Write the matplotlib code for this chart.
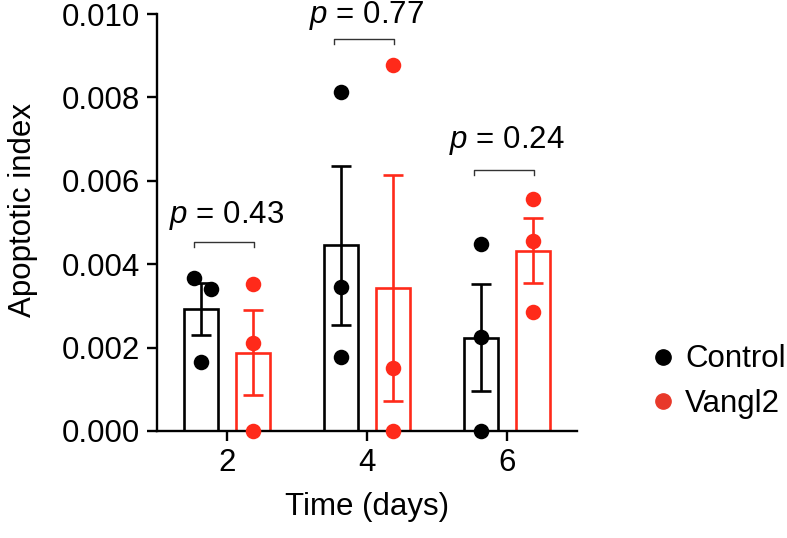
import matplotlib
matplotlib.use("Agg")
import matplotlib.pyplot as plt
import numpy as np

# ---- data ----
days = [2, 4, 6]
groups = ["Control", "Vangl2"]
control_mean = [0.00293, 0.00445, 0.00224]
control_sem = [0.00062, 0.00190, 0.00129]
vangl2_mean = [0.00188, 0.00343, 0.00432]
vangl2_sem = [0.00102, 0.00271, 0.00078]
control_points = [[0.00367, 0.00340, 0.00165],
                  [0.00812, 0.00346, 0.00177],
                  [0.00448, 0.00225, 0.00000]]
vangl2_points = [[0.00352, 0.00212, 0.00000],
                 [0.00878, 0.00152, 0.00000],
                 [0.00556, 0.00456, 0.00285]]
p_labels = ["0.43", "0.77", "0.24"]
bracket_y = [0.00454, 0.00939, 0.00626]
p_text_y = [0.00500, 0.00978, 0.00679]
yticks = [0.000, 0.002, 0.004, 0.006, 0.008, 0.010]

# ---- style ----
BLACK = "#000000"
RED = "#ff2a1a"
FS = 22.5
plt.rcParams["font.family"] = ["Liberation Sans", "DejaVu Sans"]
plt.rcParams["mathtext.fontset"] = "custom"
plt.rcParams["mathtext.it"] = "Liberation Sans:italic"
plt.rcParams["mathtext.rm"] = "Liberation Sans"

fig = plt.figure(figsize=(7.87, 5.38), dpi=100)
ax = fig.add_axes([157 / 787, 1 - 431 / 538, 420 / 787, 417 / 538])

off = 0.375
width = 0.48
lw = 1.9
jitter_c = [[-0.10, 0.14, 0.0], [0, 0, 0], [0, 0, 0]]
jitter_v = [[0, 0, 0], [0, 0, 0], [0, 0, 0]]

x = np.array(days, dtype=float)
for means, sems, pts, jit, col, sgn in [
    (control_mean, control_sem, control_points, jitter_c, BLACK, -1),
    (vangl2_mean, vangl2_sem, vangl2_points, jitter_v, RED, 1),
]:
    xs = x + sgn * off
    ax.bar(xs, means, width=width, facecolor="white", edgecolor=col,
           linewidth=lw, zorder=2)
    ax.errorbar(xs, means, yerr=sems, fmt="none", ecolor=col, elinewidth=lw,
                capsize=7, capthick=lw, zorder=3)
    for i in range(len(days)):
        ax.scatter(xs[i] + np.array(jit[i]), pts[i], s=125, color=col,
                   zorder=4, clip_on=False, linewidths=0)

# brackets and p-values
for i, d in enumerate(days):
    x0, x1 = d - 0.47, d + 0.38
    y = bracket_y[i]
    h = 0.00012
    ax.plot([x0, x0, x1, x1], [y - h, y, y, y - h], color="#333333",
            lw=1.0, zorder=5, clip_on=False)
    ax.text(d, p_text_y[i], r"$p$ = " + p_labels[i], ha="center",
            va="baseline", fontsize=FS, clip_on=False)

ax.set_xlim(1, 7)
ax.set_ylim(0, 0.010)
ax.set_xticks(days)
ax.set_xticklabels([str(d) for d in days])
ax.set_yticks(yticks)
ax.set_yticklabels([f"{t:.3f}" for t in yticks])
ax.tick_params(axis="both", labelsize=FS, width=1.7, length=7)
ax.tick_params(axis="y", pad=5)
ax.tick_params(axis="x", pad=5)
for s in ["top", "right"]:
    ax.spines[s].set_visible(False)
for s in ["left", "bottom"]:
    ax.spines[s].set_linewidth(1.7)

ax.set_xlabel("Time (days)", fontsize=FS, labelpad=10)
ax.set_ylabel("Apoptotic index", fontsize=FS)
ax.yaxis.set_label_coords(-0.283, 0.53)

handles = [plt.Line2D([], [], marker="o", ls="none", color=BLACK, markersize=11),
           plt.Line2D([], [], marker="o", ls="none", color="#e8392a", markersize=11)]
fig.legend(handles, groups, loc="center left",
           bbox_to_anchor=((663 - 15.6) / 787, 1 - 381.5 / 538),
           frameon=False, fontsize=FS, handletextpad=0.2, labelspacing=0.45,
           handlelength=1.0, borderpad=0, borderaxespad=0)

fig.savefig("out.png", dpi=100)
